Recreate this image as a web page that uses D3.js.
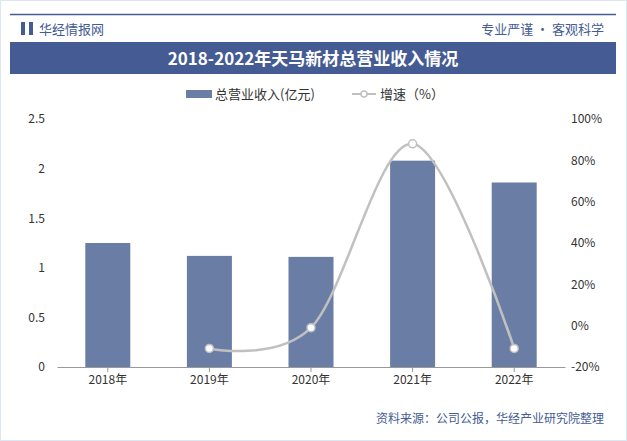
<!DOCTYPE html><html><head><meta charset="utf-8"><script src="https://cdn.jsdelivr.net/npm/d3@7"></script>
<style>body{margin:0;background:#fff}text{font-family:"Noto Sans CJK SC","Noto Sans",sans-serif}</style></head><body><svg id="c" width="627" height="441"></svg>
<script>
const years=["2018年","2019年","2020年","2021年","2022年"];
const revenue=[1.25,1.12,1.11,2.08,1.86];
const growth=[null,-11,-1,88,-11];
const leftTicks=[0,0.5,1,1.5,2,2.5];
const rightTicks=[-20,0,20,40,60,80,100];
const svg=d3.select("#c");
svg.append("rect").attr("x",0.5).attr("y",0.5).attr("width",626).attr("height",440).attr("fill","#fff").attr("stroke","#dde6f3");
svg.append("line").attr("x1",10).attr("x2",616).attr("y1",14.5).attr("y2",14.5).attr("stroke","#445b93").attr("stroke-width",1.5);
svg.append("rect").attr("x",21).attr("y",22).attr("width",4).attr("height",13).attr("fill","#445b93");
svg.append("rect").attr("x",29).attr("y",22).attr("width",4).attr("height",13).attr("fill","#445b93");
svg.append("text").attr("x",39).attr("y",34).attr("font-size",13).attr("fill","#445b93").text("华经情报网");
svg.append("text").attr("x",604).attr("y",34).attr("text-anchor","end").attr("font-size",13).attr("fill","#445b93").text("专业严谨 • 客观科学");
svg.append("rect").attr("x",10).attr("y",42).attr("width",606).attr("height",32).attr("fill","#445b93");
svg.append("text").attr("x",313).attr("y",65).attr("text-anchor","middle").attr("font-size",17).attr("font-weight","bold").attr("fill","#fff").attr("font-family","'Noto Serif CJK SC','Liberation Serif',serif").text("2018-2022年天马新材总营业收入情况");
// legend
svg.append("rect").attr("x",186).attr("y",90).attr("width",26).attr("height",8).attr("fill","#6a7ea5");
svg.append("text").attr("x",215).attr("y",99).attr("font-size",13).attr("fill","#333").text("总营业收入(亿元)");
svg.append("line").attr("x1",352).attr("x2",376).attr("y1",94).attr("y2",94).attr("stroke","#c0c0c0").attr("stroke-width",2);
svg.append("circle").attr("cx",364).attr("cy",94).attr("r",3).attr("fill","#fff").attr("stroke","#c0c0c0").attr("stroke-width",1.5);
svg.append("text").attr("x",380).attr("y",99).attr("font-size",13).attr("fill","#333").text("增速（%）");
const x=d3.scaleBand().domain(years).range([57,565]);
const yL=d3.scaleLinear().domain([0,2.5]).range([367,119]);
const yR=d3.scaleLinear().domain([-20,100]).range([367,119]);
svg.append("g").attr("transform","translate(0,367)").call(d3.axisBottom(x).tickSize(5).tickSizeOuter(0)).call(g=>{g.selectAll("text").attr("font-size",12).attr("fill","#333");g.selectAll("line,path").attr("stroke","#999");});
svg.append("g").attr("transform","translate(57,0)").call(d3.axisLeft(yL).tickValues(leftTicks).tickSize(0).tickPadding(12).tickFormat(d=>String(d))).call(g=>{g.select("path").remove();g.selectAll("text").attr("font-size",12).attr("fill","#333");});
svg.append("g").attr("transform","translate(565,0)").call(d3.axisRight(yR).tickValues(rightTicks).tickSize(0).tickPadding(6).tickFormat(d=>d+"%")).call(g=>{g.select("path").remove();g.selectAll("text").attr("font-size",12).attr("fill","#333");});
const bw=45;
svg.selectAll(".b").data(revenue).join("rect").attr("x",(d,i)=>x(years[i])+x.bandwidth()/2-bw/2).attr("y",d=>yL(d)).attr("width",bw).attr("height",d=>367-yL(d)).attr("fill","#6a7ea5");
const pts=growth.map((g,i)=>[x(years[i])+x.bandwidth()/2,g]).filter(p=>p[1]!==null);
svg.append("path").attr("d",d3.line().x(p=>p[0]).y(p=>yR(p[1])).curve(d3.curveCardinal.tension(0))(pts)).attr("fill","none").attr("stroke","#c0c0c0").attr("stroke-width",2.5);
svg.selectAll(".p").data(pts).join("circle").attr("cx",p=>p[0]).attr("cy",p=>yR(p[1])).attr("r",4).attr("fill","#fff").attr("stroke","#c0c0c0").attr("stroke-width",1.5);
svg.append("text").attr("x",604).attr("y",423).attr("text-anchor","end").attr("font-size",12).attr("fill","#445b93").text("资料来源：公司公报，华经产业研究院整理");
</script></body></html>
